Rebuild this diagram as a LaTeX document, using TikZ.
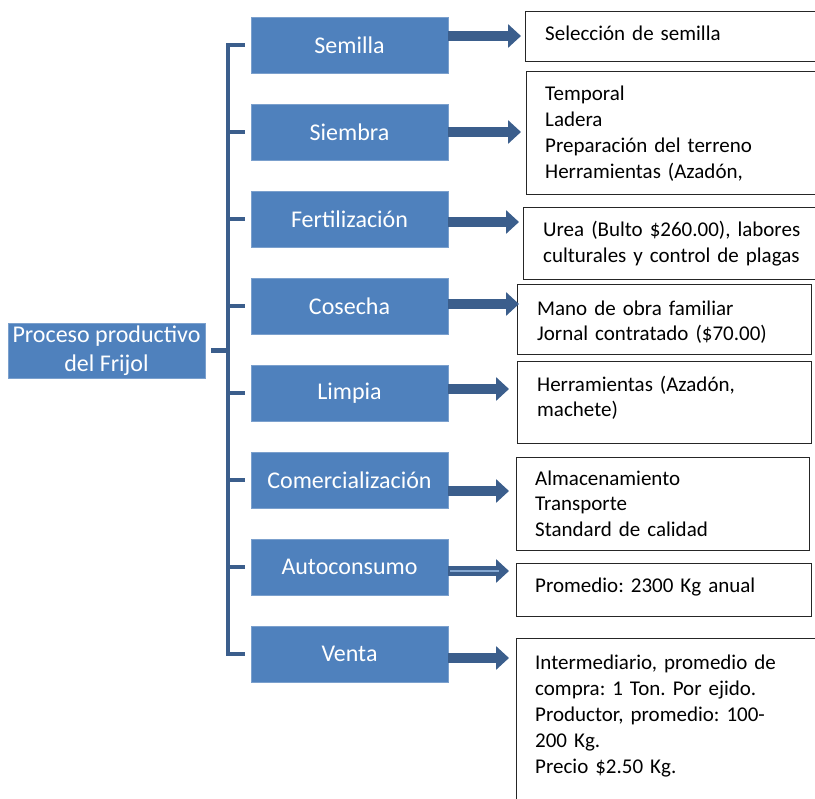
\documentclass[tikz,border=0pt]{standalone}
\usepackage{fontspec}
\setmainfont{Carlito}
\frenchspacing
\usetikzlibrary{arrows.meta}
\definecolor{boxblue}{HTML}{4F81BD}
\definecolor{arrblue}{HTML}{3B5E8C}
\tikzset{
  bbox/.style={fill=boxblue, draw=boxblue!75!white, line width=0.8pt, text=white,
    minimum width=197pt, minimum height=56pt, inner sep=0pt,
    font=\fontsize{24}{29}\selectfont, align=center},
  rbox/.style={draw=black!85, line width=1.3pt, fill=white, anchor=north west, inner sep=0pt},
  rtext/.style={anchor=base west, inner sep=0pt, text width=300pt, align=left,
    font=\fontsize{21}{26}\selectfont\frenchspacing},
  arr/.style={draw=arrblue, line width=10pt, -{Triangle[length=13pt,width=23pt]}},
  brk/.style={draw=arrblue, line width=4.5pt, line cap=butt, line join=miter},
  hl/.style={draw=boxblue!70!white, line width=1.6pt}
}
\begin{document}
\begin{tikzpicture}[x=1pt,y=-1pt]
\useasboundingbox (0,0) rectangle (815,799);
\fill[white] (0,0) rectangle (815,799);
\clip (0,0) rectangle (815,799);

% main box
\node[bbox, minimum width=197pt, minimum height=55pt] (m) at (106.5,350.5) {Proceso productivo\\del Frijol};

% blue step boxes
\node[bbox] (b1) at (349.5,45) {Semilla};
\node[bbox] (b2) at (349.5,132) {Siembra};
\node[bbox] (b3) at (349.5,219) {Fertilización};
\node[bbox] (b4) at (349.5,306) {Cosecha};
\node[bbox] (b5) at (349.5,393) {Limpia};
\node[bbox] (b6) at (349.5,480) {Comercialización};
\node[bbox] (b7) at (349.5,567) {Autoconsumo};
\node[bbox] (b8) at (349.5,654) {Venta};

% bracket
\coordinate (bx) at (228,0);
\draw[brk] ([xshift=6pt]m.east) -- (m.east -| bx);
\draw[brk] ([xshift=-6pt]b1.west) -- (b1.west -| bx) -- (b8.west -| bx) -- ([xshift=-6pt]b8.west);
\foreach \b in {b2,b3,b4,b5,b6,b7}{
  \draw[brk] (\b.west -| bx) -- ([xshift=-6pt]\b.west);
}

% right boxes
\node[rbox, minimum width=305pt, minimum height=50pt] (r1) at (525,11) {};
\node[rbox, minimum width=304pt, minimum height=123pt] (r2) at (526,71) {};
\node[rbox, minimum width=307pt, minimum height=72pt] (r3) at (523,207) {};
\node[rbox, minimum width=294pt, minimum height=70pt] (r4) at (517,284) {};
\node[rbox, minimum width=294pt, minimum height=82pt] (r5) at (517,361) {};
\node[rbox, minimum width=293pt, minimum height=93pt] (r6) at (516,457) {};
\node[rbox, minimum width=295pt, minimum height=53pt] (r7) at (516,563) {};
\node[rbox, minimum width=314pt, minimum height=182pt] (r8) at (516,638) {};

% texts
\node[rtext] (t1) at (545,41) {Selección de semilla};
\node[rtext] (t2) at (545,100.5) {Temporal\\Ladera\\Preparación del terreno\\Herramientas (Azadón,};
\node[rtext] (t3) at (543,237) {Urea (Bulto \$260.00), labores\\culturales y control de plagas};
\node[rtext, font=\fontsize{21}{25}\selectfont\frenchspacing] (t4) at (537,315.5) {Mano de obra familiar\\Jornal contratado (\$70.00)};
\node[rtext, font=\fontsize{21}{25}\selectfont\frenchspacing] (t5) at (537,392) {Herramientas (Azadón,\\machete)};
\node[rtext, font=\fontsize{21}{25.5}\selectfont\frenchspacing] (t6) at (535,485.5) {Almacenamiento\\Transporte\\Standard de calidad};
\node[rtext] (t7) at (535,592.5) {Promedio: 2300 Kg anual};
\node[rtext] (t8) at (535,669.5) {Intermediario, promedio de\\compra: 1 Ton. Por ejido.\\Productor, promedio: 100-\\200 Kg.\\Precio \$2.50 Kg.};

% arrows
\coordinate (a1) at (521,36);
\coordinate (a2) at (521,132);
\coordinate (a3) at (519,222);
\coordinate (a4) at (519,304);
\coordinate (a5) at (509,389);
\coordinate (a6) at (509,491);
\coordinate (a7) at (509,571);
\coordinate (a8) at (509,658);
\foreach \i in {1,...,8}{
  \draw[arr] (b\i.east |- a\i) -- (a\i);
}
\draw[hl] ([xshift=2pt]b7.east |- a7) -- ([xshift=-10pt]a7);
\end{tikzpicture}
\end{document}
